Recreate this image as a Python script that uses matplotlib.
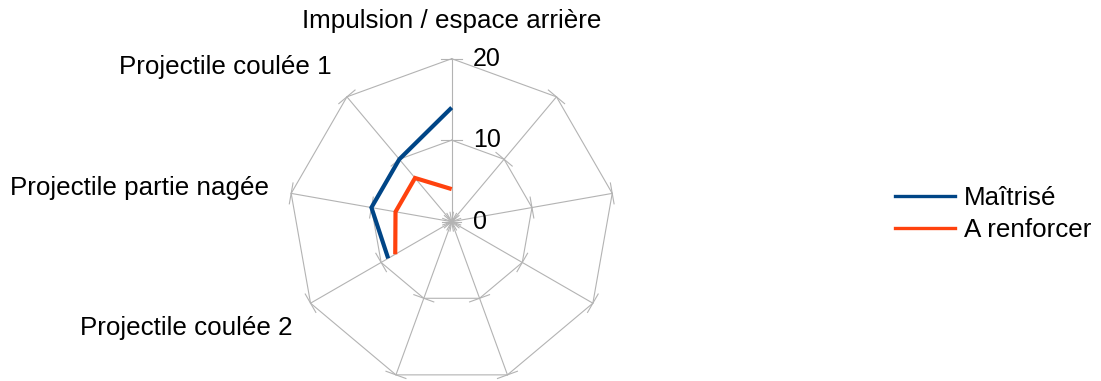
import numpy as np
import matplotlib
matplotlib.use("Agg")
import matplotlib.pyplot as plt
from matplotlib.lines import Line2D

plt.rcParams['font.family'] = ['Liberation Sans', 'DejaVu Sans']

# ---- data ----
categories = ["Impulsion / espace arrière", "Projectile coulée 1",
              "Projectile partie nagée", "Projectile coulée 2",
              "", "", "", "", ""]
maitrise = [14, 10, 10, 9, np.nan, np.nan, np.nan, np.nan, np.nan]
a_renforcer = [4, 7, 7, 8, np.nan, np.nan, np.nan, np.nan, np.nan]
r_ticks = [0, 10, 20]
r_tick_labels = ["0", "10", "20"]
series_names = ["Maîtrisé", "A renforcer"]

# ---- style ----
C_BLUE = "#004586"
C_ORANGE = "#ff420e"
C_GRID = "#b3b3b3"
FS = 18.7
FS_TICK = 18
RMAX = 20

W, H = 1101, 381
fig = plt.figure(figsize=(W / 100, H / 100), dpi=100)
cx, cy, rad = 451.7, 221.7, 163.0
ax = fig.add_axes([(cx - rad) / W, (H - cy - rad) / H, 2 * rad / W, 2 * rad / H],
                  projection='polar')
ax.set_theta_offset(np.pi / 2)
ax.set_ylim(0, RMAX)
ax.grid(False)
ax.set_xticks([])
ax.set_yticks([])
ax.spines['polar'].set_visible(False)
ax.patch.set_alpha(0)

n = len(categories)
theta = np.arange(n) * 2 * np.pi / n

# polygon gridlines
gkw = dict(color=C_GRID, lw=0.8, clip_on=False, zorder=1)
for r in r_ticks[1:]:
    ax.plot(np.append(theta, theta[0]), [r] * (n + 1), **gkw)
# spokes
for t in theta:
    ax.plot([t, t], [0, RMAX], **gkw)
# perpendicular tick marks on each spoke
h = 1.3
for t in theta:
    for r in r_ticks:
        if r == 0:
            ax.plot([t - np.pi / 2, t + np.pi / 2], [h * 0.9, h * 0.9], **gkw)
        else:
            d = np.arctan2(h, r)
            rr = np.hypot(r, h)
            ax.plot([t - d, t + d], [rr, rr], **gkw)

# radial value labels
for r, lab in zip(r_ticks, r_tick_labels):
    ax.annotate(lab, xy=(theta[0], r), xytext=(21, 0), textcoords='offset pixels',
                ha='left', va='center', fontsize=FS_TICK, color='black', annotation_clip=False)

# category labels
label_offsets = [(0, 38), (-15, 30), (-22, 5), (-18, -25), (0, 0), (0, 0), (0, 0), (0, 0), (0, 0)]
for t, lab, off in zip(theta, categories, label_offsets):
    if not lab:
        continue
    ha = 'center' if abs(off[0]) < 1 else ('right' if off[0] < 0 else 'left')
    ax.annotate(lab, xy=(t, RMAX), xytext=off, textcoords='offset pixels',
                ha=ha, va='center', fontsize=FS, color='black', annotation_clip=False)

# data series
ax.plot(theta, maitrise, color=C_BLUE, lw=3, solid_capstyle='butt',
        solid_joinstyle='miter', clip_on=False, zorder=3, label=series_names[0])
ax.plot(theta, a_renforcer, color=C_ORANGE, lw=3, solid_capstyle='butt',
        solid_joinstyle='miter', clip_on=False, zorder=3, label=series_names[1])

handles = [Line2D([], [], color=C_BLUE, lw=2.4), Line2D([], [], color=C_ORANGE, lw=2.4)]
fig.legend(handles, series_names, loc='center left', bbox_to_anchor=(895 / W, 1 - 214 / H),
           frameon=False, fontsize=FS, handlelength=2.3, handletextpad=0.35,
           labelspacing=0.3, borderpad=0, borderaxespad=0)

fig.savefig("out.png", dpi=100, facecolor='white')
